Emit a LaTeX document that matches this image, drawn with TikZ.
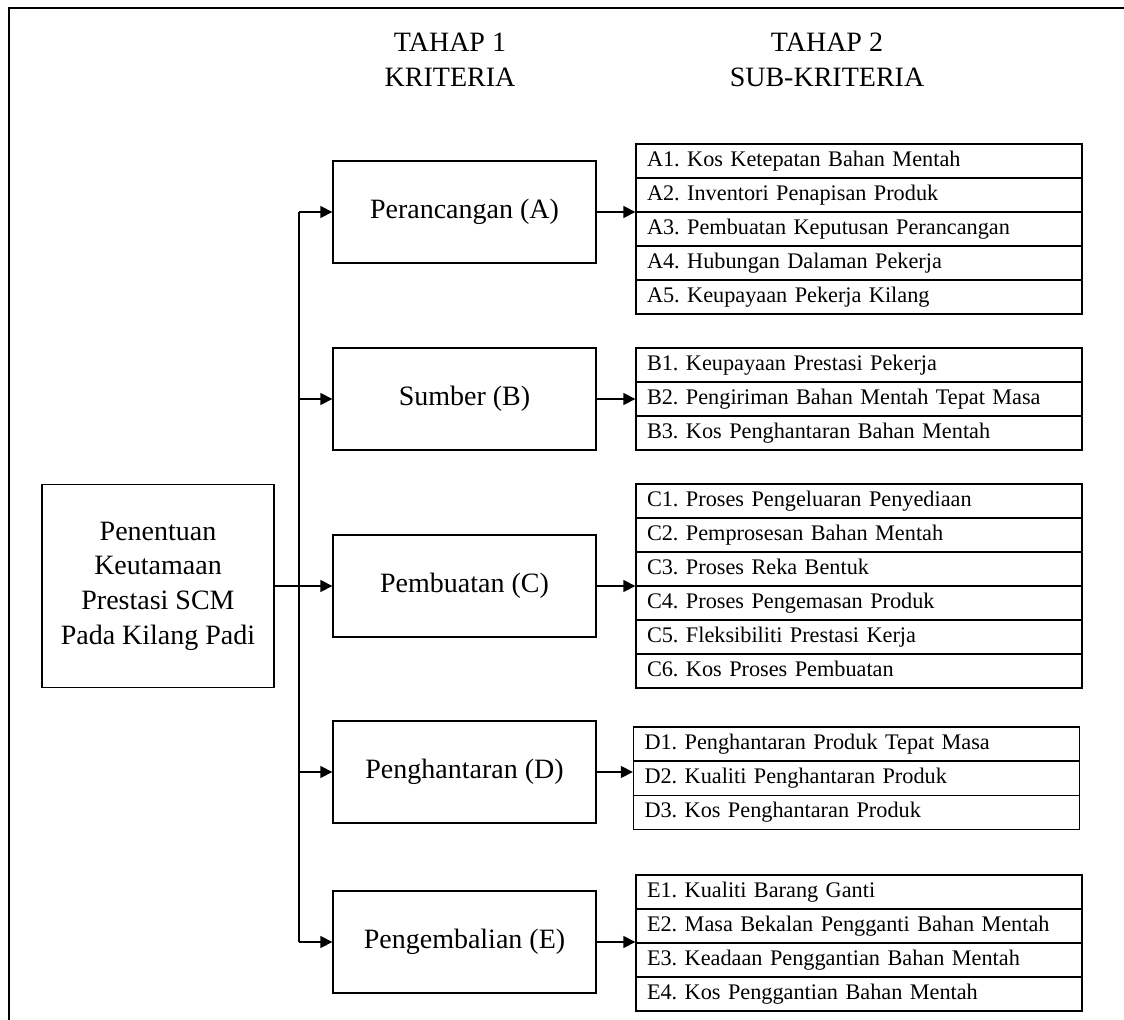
\documentclass[tikz,border=0pt]{standalone}
\usepackage{fontspec}
\setmainfont{Liberation Serif}
\usetikzlibrary{arrows.meta}
\frenchspacing

\begin{document}
\begin{tikzpicture}[x=0.75pt,y=-0.75pt,line width=1pt,
    kotak/.style={draw,minimum width=197.25pt,minimum height=76.5pt,
      font=\fontsize{21}{26}\selectfont},
    subkotak/.style={draw,text width=318pt,inner xsep=8.25pt,inner ysep=0pt,
      minimum height=25.5pt,align=left,execute at begin node=\strut,
      font=\fontsize{16.7}{20}\selectfont},
    tajuk/.style={align=center,font=\fontsize{21}{26.25}\selectfont},
    panah/.style={-{Triangle[length=9pt,width=9pt]}}]
  \useasboundingbox (0,0) rectangle (1124,1020);
  \draw (1124,8) -- (9,8) -- (9,1020);

  \node[tajuk] (t1) at (450,60) {TAHAP 1\\KRITERIA};
  \node[tajuk] (t2) at (827,60) {TAHAP 2\\SUB-KRITERIA};

  \node[draw,minimum width=174pt,minimum height=152.25pt,align=center,
    font=\fontsize{21}{26}\selectfont] (utama) at (158,586)
    {Penentuan\\Keutamaan\\Prestasi SCM\\Pada Kilang Padi};

  \node[kotak] (pa) at (464.5,212) {Perancangan (A)};
  \node[kotak] (pb) at (464.5,399) {Sumber (B)};
  \node[kotak] (pc) at (464.5,586) {Pembuatan (C)};
  \node[kotak] (pd) at (464.5,772) {Penghantaran (D)};
  \node[kotak] (pe) at (464.5,942) {Pengembalian (E)};

  \foreach \t [count=\i] in {A1. Kos Ketepatan Bahan Mentah,
      A2. Inventori Penapisan Produk,
      A3. Pembuatan Keputusan Perancangan,
      A4. Hubungan Dalaman Pekerja,
      A5. Keupayaan Pekerja Kilang}
    \node[subkotak] (a\i) at (859,{161+34*(\i-1)}) {\t};
  \foreach \t [count=\i] in {B1. Keupayaan Prestasi Pekerja,
      B2. Pengiriman Bahan Mentah Tepat Masa,
      B3. Kos Penghantaran Bahan Mentah}
    \node[subkotak] (b\i) at (859,{365+34*(\i-1)}) {\t};
  \foreach \t [count=\i] in {C1. Proses Pengeluaran Penyediaan,
      C2. Pemprosesan Bahan Mentah,
      C3. Proses Reka Bentuk,
      C4. Proses Pengemasan Produk,
      C5. Fleksibiliti Prestasi Kerja,
      C6. Kos Proses Pembuatan}
    \node[subkotak] (c\i) at (859,{501+34*(\i-1)}) {\t};
  \foreach \t [count=\i] in {D1. Penghantaran Produk Tepat Masa,
      D2. Kualiti Penghantaran Produk,
      D3. Kos Penghantaran Produk}
    \node[subkotak] (d\i) at (856.5,{744+34.3*(\i-1)}) {\t};
  \foreach \t [count=\i] in {E1. Kualiti Barang Ganti,
      E2. Masa Bekalan Pengganti Bahan Mentah,
      E3. Keadaan Penggantian Bahan Mentah,
      E4. Kos Penggantian Bahan Mentah}
    \node[subkotak] (e\i) at (859,{892+34*(\i-1)}) {\t};

  % cabang ke kriteria
  \coordinate (batang) at (299,586);
  \draw (batang |- pa.west) -- (batang |- pe.west);
  \foreach \n in {pa,pb,pd,pe}
    \draw[panah] (batang |- \n.west) -- (\n.west);
  \draw[panah] (utama.east) -- (pc.west);

  % ke sub-kriteria
  \draw[panah] (pa.east) -- (pa.east -| a1.west);
  \draw[panah] (pb.east) -- (pb.east -| b1.west);
  \draw[panah] (pc.east) -- (pc.east -| c1.west);
  \draw[panah] (pd.east) -- (pd.east -| d1.west);
  \draw[panah] (pe.east) -- (pe.east -| e1.west);
\end{tikzpicture}
\end{document}
